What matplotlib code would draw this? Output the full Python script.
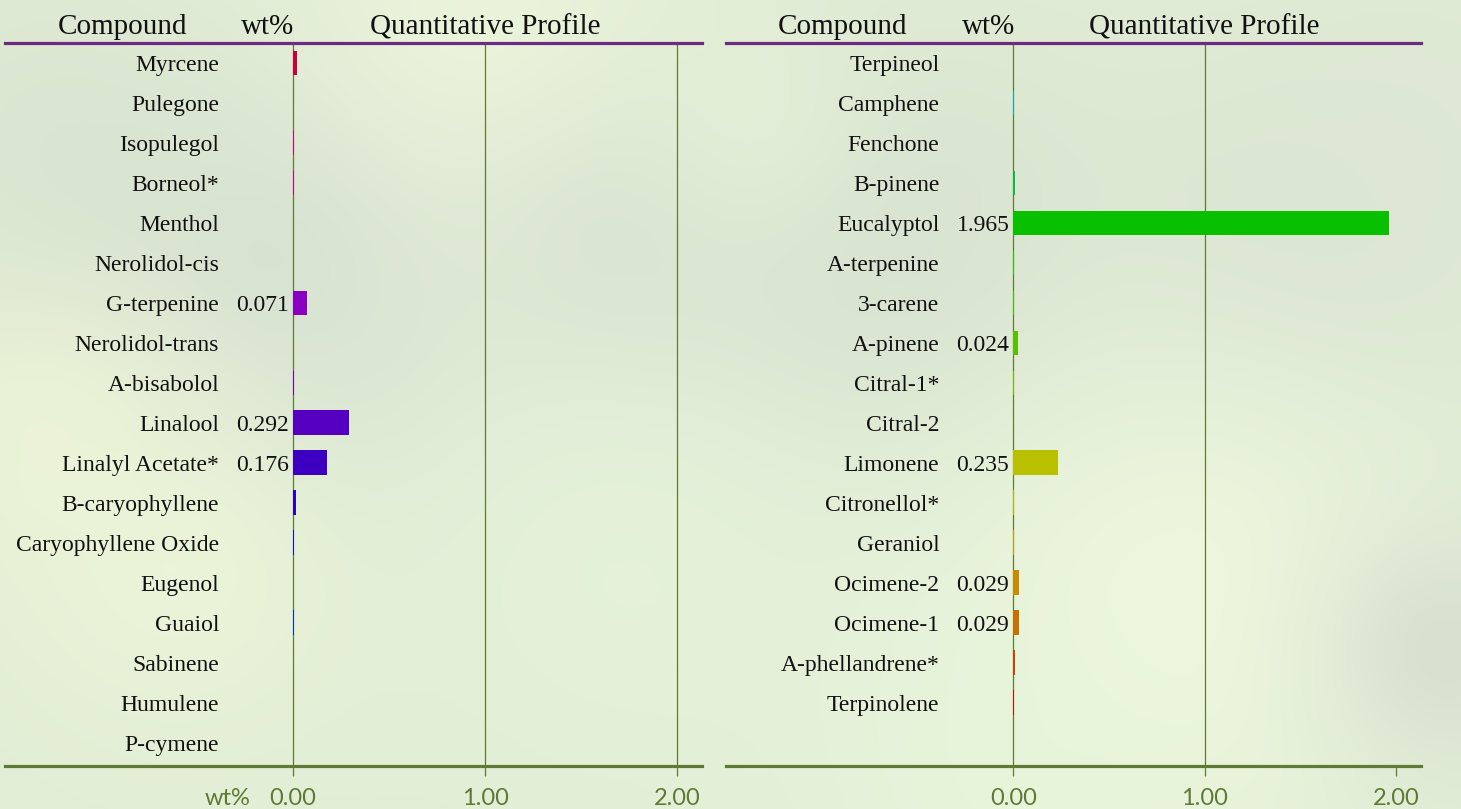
import numpy as np
import matplotlib
matplotlib.use("Agg")
import matplotlib.pyplot as plt
from matplotlib.colors import to_rgb

# ── data ─────────────────────────────────────────────────────────────
left_compounds = ["Myrcene", "Pulegone", "Isopulegol", "Borneol*", "Menthol",
                  "Nerolidol-cis", "G-terpenine", "Nerolidol-trans", "A-bisabolol",
                  "Linalool", "Linalyl Acetate*", "B-caryophyllene",
                  "Caryophyllene Oxide", "Eugenol", "Guaiol", "Sabinene",
                  "Humulene", "P-cymene"]
left_wt = [0.019, 0.0, 0.006, 0.006, 0.0, 0.0, 0.071, 0.0, 0.006, 0.292,
           0.176, 0.015, 0.006, 0.0, 0.006, 0.0, 0.002, 0.0]

right_compounds = ["Terpineol", "Camphene", "Fenchone", "B-pinene", "Eucalyptol",
                   "A-terpenine", "3-carene", "A-pinene", "Citral-1*", "Citral-2",
                   "Limonene", "Citronellol*", "Geraniol", "Ocimene-2", "Ocimene-1",
                   "A-phellandrene*", "Terpinolene"]
right_wt = [0.0, 0.005, 0.0, 0.008, 1.965, 0.004, 0.004, 0.024, 0.004, 0.0,
            0.235, 0.004, 0.004, 0.029, 0.029, 0.010, 0.005]

left_colors = ["#c8003c", "#c80058", "#cc0080", "#c4008e", "#b000a8", "#9c00b8",
               "#8a00c0", "#7a00c4", "#6c00c8", "#5500c0", "#3d00c0", "#2a00cc",
               "#1a10d0", "#1020d0", "#0030d0", "#0040c8", "#0050c8", "#0060c0"]
right_colors = ["#00b4b4", "#00b0c0", "#00b890", "#00c040", "#08c000", "#28c000",
                "#40c000", "#58c000", "#78c000", "#98c000", "#b8c000", "#c0b000",
                "#c8a000", "#c88c00", "#c87000", "#cc4000", "#cc1000"]

x_ticks = [0, 1, 2]

# ── style ────────────────────────────────────────────────────────────
W, H, DPI = 1461, 809, 100
OLIVE = "#5f7a35"
PURPLE = "#6e2a80"
SERIF = "Liberation Serif"
SANS = "Lato"
XLIM = (-1.5, 2.13)
YLIM = (17.58, -0.5)

fig = plt.figure(figsize=(W / DPI, H / DPI), dpi=DPI)

# soft blurred background
yy, xx = np.mgrid[0:H, 0:W]
base = np.array(to_rgb("#e1edd5"))
bg = np.ones((H, W, 3)) * base
blobs = [  # (x, y, sigma, colour, strength)
    (460, 70, 150, "#f0f9de", 0.85),
    (250, 300, 170, "#d2dccf", 0.75),
    (620, 250, 110, "#d5dfcf", 0.65),
    (880, 260, 150, "#d3ddce", 0.75),
    (1280, 300, 160, "#d5dfd0", 0.65),
    (1200, 590, 190, "#eff9df", 0.85),
    (180, 560, 130, "#eef8da", 0.7),
    (40, 420, 110, "#f0f6d8", 0.7),
    (620, 560, 170, "#e8f5dc", 0.6),
    (1440, 650, 90, "#d2dacd", 0.7),
    (1010, 780, 150, "#eaf7dc", 0.6),
    (40, 140, 110, "#d7e3cf", 0.55),
    (1440, 110, 110, "#dde6d5", 0.5),
    (760, 130, 90, "#e8f4da", 0.5),
]
for bx, by, s, c, k in blobs:
    w = k * np.exp(-((xx - bx) ** 2 + (yy - by) ** 2) / (2 * s ** 2))
    bg = bg * (1 - w[..., None]) + np.array(to_rgb(c)) * w[..., None]
bg_ax = fig.add_axes([0, 0, 1, 1], zorder=-10)
bg_ax.imshow(bg, aspect="auto", interpolation="bilinear")
bg_ax.axis("off")


def panel(rect, names, vals, colors, grid_at, bottom_unit):
    ax = fig.add_axes(rect)
    ax.patch.set_alpha(0)
    ax.set_xlim(*XLIM)
    ax.set_ylim(*YLIM)
    pos = np.arange(len(names))
    ax.barh(pos, vals, height=0.62, color=colors, linewidth=0, zorder=3)

    for g in grid_at:
        ax.axvline(g, color=OLIVE, lw=0.9, zorder=2)

    # row labels and values (baseline ~8 px below row centre)
    for i, (n, v) in enumerate(zip(names, vals)):
        ax.text(-0.385, i + 0.2, n, ha="right", va="baseline", fontsize=17,
                family=SERIF, color="#111111")
        if v >= 0.02:
            ax.text(-0.02, i + 0.2, f"{v:.3f}", ha="right", va="baseline",
                    fontsize=17, family=SERIF, color="#111111")

    # header
    hy = -0.72
    for hx, txt in [(-0.89, "Compound"), (-0.13, "wt%"),
                    (1.0, "Quantitative Profile")]:
        ax.text(hx, hy, txt, ha="center", va="baseline", fontsize=21,
                family=SERIF, color="#111111", clip_on=False)

    for side in ["left", "right"]:
        ax.spines[side].set_visible(False)
    ax.spines["top"].set_color(PURPLE)
    ax.spines["top"].set_linewidth(2.3)
    ax.spines["bottom"].set_color(OLIVE)
    ax.spines["bottom"].set_linewidth(2.3)

    ax.set_yticks([])
    ax.set_xticks(x_ticks)
    ax.set_xticklabels([f"{t:.2f}" for t in x_ticks])
    ax.tick_params(axis="x", direction="out", length=7, width=0.9,
                   color=OLIVE, labelcolor=OLIVE, labelsize=17, pad=9)
    for lab in ax.get_xticklabels():
        lab.set_family(SANS)
    return ax


top, bottom = 43, 766
rect_h = (bottom - top) / H
rect_y = 1 - bottom / H
lax = panel([5 / W, rect_y, 697 / W, rect_h], left_compounds, left_wt,
            left_colors, [0, 1, 2], True)
rax = panel([726 / W, rect_y, 695 / W, rect_h], right_compounds, right_wt,
            right_colors, [0, 1], False)

# "wt%" unit label next to the first tick label of the left panel
fig.canvas.draw()
bb = lax.get_xticklabels()[0].get_window_extent()
x_fig = lax.transData.transform((-0.22, 0))[0] / W
fig.text(x_fig, (bb.y0 + bb.y1) / 2 / H, "wt%", ha="right", va="center",
         fontsize=17, family=SANS, color=OLIVE)

fig.savefig("out.png", dpi=DPI)
